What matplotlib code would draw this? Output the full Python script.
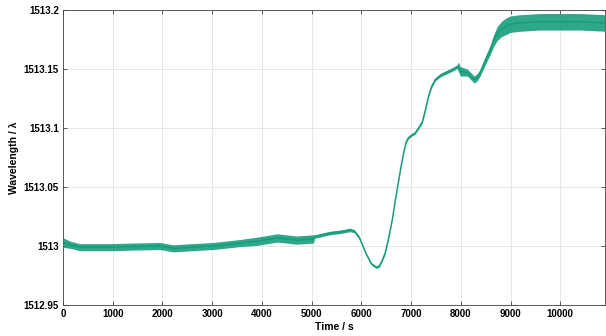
import matplotlib
matplotlib.use("Agg")
import matplotlib.pyplot as plt
from matplotlib.ticker import FuncFormatter

# ---- data ----
time_s = [0, 150, 340, 700, 945, 1400, 1950, 2213, 2600, 3018, 3560, 3900,
          4306, 4700, 5040, 5060, 5370, 5573, 5775, 5860, 5960, 6100, 6200,
          6298, 6360, 6420, 6479, 6550, 6620, 6680, 6740, 6800, 6861, 6900,
          6942, 7010, 7082, 7150, 7223, 7280, 7344, 7410, 7485, 7600, 7726,
          7850, 7927, 7950, 7990, 8130, 8270, 8330, 8390, 8480, 8590, 8660,
          8732, 8820, 8900, 9000, 9200, 9600, 10000, 10400, 10900]
wavelength_center = [1513.003, 1513.001, 1512.999, 1512.999, 1512.999, 1512.9995,
                     1513.000, 1512.998, 1512.999, 1513.000, 1513.0025, 1513.004,
                     1513.0068, 1513.005, 1513.006, 1513.008, 1513.011, 1513.012,
                     1513.0136, 1513.0125, 1513.007, 1512.993, 1512.985,
                     1512.982, 1512.983, 1512.988, 1512.994, 1513.007, 1513.022,
                     1513.038, 1513.053, 1513.068, 1513.081, 1513.088,
                     1513.0915, 1513.094, 1513.0958, 1513.100, 1513.105, 1513.114,
                     1513.126, 1513.135, 1513.141, 1513.145, 1513.1475,
                     1513.150, 1513.152, 1513.152, 1513.148, 1513.147, 1513.141,
                     1513.143, 1513.147, 1513.156, 1513.166, 1513.174,
                     1513.180, 1513.184, 1513.186, 1513.188, 1513.189, 1513.190,
                     1513.190, 1513.190, 1513.189]
noise_halfwidth = [0.004, 0.003, 0.003, 0.003, 0.003, 0.003, 0.003, 0.003, 0.003,
                   0.003, 0.003, 0.0035, 0.0035, 0.0035, 0.0035, 0.0015, 0.0015,
                   0.0015, 0.0015, 0.0013, 0.0012, 0.001, 0.001,
                   0.001, 0.001, 0.001, 0.001, 0.0008, 0.0008,
                   0.0008, 0.0008, 0.0008, 0.0008, 0.0009,
                   0.001, 0.001, 0.001, 0.001, 0.001, 0.001,
                   0.001, 0.0011, 0.0012, 0.0014, 0.0015,
                   0.0015, 0.0015, 0.004, 0.004, 0.003, 0.003,
                   0.003, 0.003, 0.0035, 0.004, 0.005,
                   0.006, 0.0065, 0.007, 0.007, 0.007, 0.007,
                   0.007, 0.007, 0.007]
x_ticks = [0, 1000, 2000, 3000, 4000, 5000, 6000, 7000, 8000, 9000, 10000]
y_ticks = [1512.95, 1513.0, 1513.05, 1513.1, 1513.15, 1513.2]
x_label = "Time / s"
y_label = "Wavelength / \u03bb"

plt.rcParams['font.family'] = ['Liberation Sans', 'DejaVu Sans']
color = '#129c7a'

fig = plt.figure(figsize=(6.06, 3.36), dpi=100)
ax = fig.add_axes([63/606, 1-305/336, (605-63)/606, (305-10)/336])

lower = [c - h for c, h in zip(wavelength_center, noise_halfwidth)]
upper = [c + h for c, h in zip(wavelength_center, noise_halfwidth)]
ax.fill_between(time_s, lower, upper, color=color, alpha=0.88, linewidth=0, zorder=3)
ax.plot(time_s, wavelength_center, color=color, lw=1.0, zorder=4)

ax.set_xlim(0, 10900)
ax.set_ylim(1512.95, 1513.2)
ax.set_xticks(x_ticks)
ax.set_yticks(y_ticks)
ax.yaxis.set_major_formatter(FuncFormatter(lambda v, p: f"{v:.2f}".rstrip('0').rstrip('.')))
ax.grid(True, color='#e4e4e4', lw=0.6, zorder=0)
ax.set_axisbelow(True)
ax.tick_params(direction='in', length=3, width=0.6, top=True, right=True,
               labelsize=7, color='#404040', pad=3)
for lab in ax.get_xticklabels() + ax.get_yticklabels():
    lab.set_fontweight('bold')
for s in ax.spines.values():
    s.set_linewidth(0.6)
    s.set_color('#404040')
ax.set_xlabel(x_label, fontsize=7.5, fontweight='bold', labelpad=2)
ax.set_ylabel(y_label, fontsize=7.5, fontweight='bold', labelpad=3)

fig.savefig("out.png", dpi=100)
